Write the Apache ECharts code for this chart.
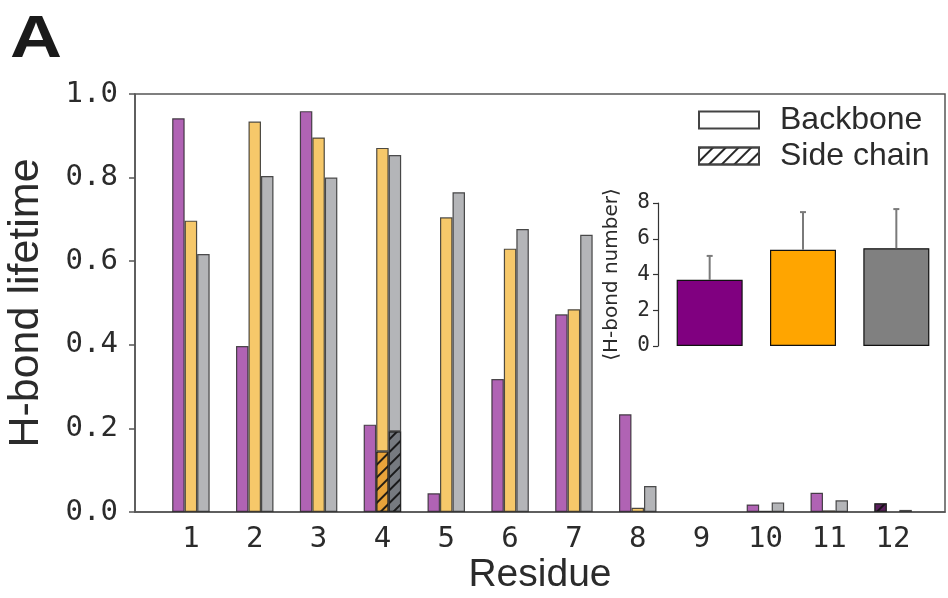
<!DOCTYPE html>
<html><head><meta charset="utf-8">
<script src="https://cdn.jsdelivr.net/npm/echarts@6/dist/echarts.min.js"></script>
<style>html,body{margin:0;padding:0;background:#fff}#c{width:948px;height:598px}</style>
</head><body><div id="c"></div>
<script>
// ---- data ----
const residues = ['1','2','3','4','5','6','7','8','9','10','11','12'];
const purpleBackbone = [0.942, 0.397, 0.959, 0.209, 0.045, 0.318, 0.473, 0.234, null, 0.018, 0.046, null];
const purpleSide     = [null, null, null, null, null, null, null, null, null, null, null, 0.021];
const yellowSide     = [null, null, null, 0.145, null, null, null, null, null, null, null, null];
const yellowBackbone = [0.697, 0.934, 0.896, 0.726, 0.705, 0.630, 0.485, 0.010, null, 0.003, 0.004, null];
const graySide       = [null, null, null, 0.193, null, null, null, null, null, null, null, null];
const grayBackbone   = [0.617, 0.804, 0.800, 0.661, 0.765, 0.677, 0.663, 0.062, null, 0.023, 0.028, 0.005];
const yTicks = [0, 0.2, 0.4, 0.6, 0.8, 1.0];
const insetGroups = ['purple', 'orange', 'gray'];
const insetMean = [3.70, 5.38, 5.47];
const insetSD   = [1.34, 2.11, 2.19];
const insetTicks = [0, 2, 4, 6, 8];
const legendNames = ['Backbone', 'Side chain'];

// ---- style ----
const mono = 'DejaVu Sans Mono';
const sans = 'Liberation Sans';
const txt = '#2b2b2b';
const axisCol = '#555';
const hatch = {symbol: 'rect', symbolSize: 1, color: 'rgba(15,15,15,0.9)', dashArrayX: [1, 0], dashArrayY: [1.5, 7], rotation: -Math.PI / 4};
const edge = 'rgba(35,35,35,0.8)';
const fill = {p: '#b063b4', y: '#f6c86a', g: '#b4b5b8'};
const sideFill = {p: '#5a1d5c', y: '#e8a33a', g: '#767a80'};
const insetFill = ['#800080', '#ffa500', '#808080'];

function barSeries(name, data, stack, color, decal) {
  return {
    type: 'bar', name: name, xAxisIndex: 1, yAxisIndex: 1, stack: stack,
    data: data, barWidth: 12.5, barGap: '0%',
    itemStyle: {color: color, borderColor: edge, borderWidth: 1.2, decal: decal || null},
    silent: true, animation: false
  };
}

const chart = echarts.init(document.getElementById('c'), null, {renderer: 'canvas'});
chart.setOption({
  animation: false,
  backgroundColor: '#fff',
  grid: [
    {left: 135, right: 3, top: 94, bottom: 86, show: true, borderColor: axisCol, borderWidth: 1.5, backgroundColor: 'transparent', outerBoundsMode: 'none', containLabel: false},
    {left: 159, right: 23, top: 94, bottom: 86, outerBoundsMode: 'none', containLabel: false},
    {left: 663, width: 280, top: 203, bottom: 252, outerBoundsMode: 'none', containLabel: false},
    {left: 0, top: 0, width: 10, height: 10, outerBoundsMode: 'none', containLabel: false}
  ],
  xAxis: [
    {gridIndex: 0, type: 'value', min: 0, max: 1, splitLine: {show: false}, axisTick: {show: false}, axisLabel: {show: false},
     axisLine: {show: true, lineStyle: {color: axisCol, width: 1.5}},
     name: 'Residue', nameLocation: 'middle', nameGap: 44,
     nameTextStyle: {fontFamily: sans, fontSize: 39, color: txt}},
    {gridIndex: 1, type: 'category', data: residues, axisLine: {show: false}, axisTick: {show: false},
     axisLabel: {fontFamily: mono, fontSize: 29, color: txt, margin: 13}},
    {gridIndex: 2, type: 'category', data: insetGroups, show: false},
    {gridIndex: 3, type: 'category', data: ['x'], show: false}
  ],
  yAxis: [
    {gridIndex: 0, type: 'value', min: 0, max: 1, interval: 0.2, splitLine: {show: false},
     axisLine: {show: true, lineStyle: {color: axisCol, width: 1.5}},
     axisTick: {show: true, inside: false, length: 6, lineStyle: {color: axisCol, width: 1.5}},
     axisLabel: {fontFamily: mono, fontSize: 29, color: txt, margin: 17, formatter: v => v.toFixed(1)},
     name: 'H-bond lifetime', nameLocation: 'middle', nameGap: 87,
     nameTextStyle: {fontFamily: sans, fontSize: 43, color: txt}},
    {gridIndex: 1, type: 'value', min: 0, max: 1, show: false},
    {gridIndex: 2, type: 'value', min: 0, max: 8, interval: 2, offset: 5, splitLine: {show: false},
     axisLine: {show: true, lineStyle: {color: '#333', width: 1.2}},
     axisTick: {show: true, length: 5, lineStyle: {color: '#333', width: 1.2}},
     axisLabel: {fontFamily: mono, fontSize: 21, color: txt, margin: 8},
     name: '⟨H-bond number⟩', nameLocation: 'middle', nameGap: 36,
     nameTextStyle: {fontFamily: 'DejaVu Sans', fontSize: 20, color: txt}},
    {gridIndex: 3, type: 'value', show: false}
  ],
  legend: {
    data: legendNames, left: 698, top: 104, orient: 'vertical', itemWidth: 60, itemHeight: 17, itemGap: 4,
    padding: 0, icon: 'rect', selectedMode: false,
    textStyle: {fontFamily: sans, fontSize: 32, color: txt, padding: [0, 0, 0, 16]}
  },
  graphic: [
    {type: 'text', left: 10, top: 10, scaleX: 1.2, style: {text: 'A', font: 'bold 60px "Liberation Sans"', fill: '#1a1a1a'}}
  ],
  series: [
    barSeries('p-side', purpleSide, 'p', sideFill.p, hatch),
    barSeries('p-back', purpleBackbone, 'p', fill.p),
    barSeries('y-side', yellowSide, 'y', sideFill.y, hatch),
    barSeries('y-back', yellowBackbone, 'y', fill.y),
    barSeries('g-side', graySide, 'g', sideFill.g, hatch),
    barSeries('g-back', grayBackbone, 'g', fill.g),
    {type: 'bar', xAxisIndex: 2, yAxisIndex: 2, barWidth: 66, silent: true,
     data: insetMean.map((v, i) => ({value: v, itemStyle: {color: insetFill[i]}})),
     itemStyle: {borderColor: '#111', borderWidth: 1.2}},
    {type: 'custom', xAxisIndex: 2, yAxisIndex: 2, silent: true, z: 5,
     data: insetMean.map((m, i) => [i, m, m + insetSD[i]]),
     renderItem: function (params, api) {
       const base = api.coord([api.value(0), api.value(1)]);
       const top = api.coord([api.value(0), api.value(2)]);
       const st = {stroke: '#7a7a7a', lineWidth: 2};
       return {type: 'group', children: [
         {type: 'line', shape: {x1: base[0], y1: base[1], x2: top[0], y2: top[1]}, style: st},
         {type: 'line', shape: {x1: top[0] - 3, y1: top[1], x2: top[0] + 3, y2: top[1]}, style: st}
       ]};
     }},
    {type: 'bar', name: 'Backbone', xAxisIndex: 3, yAxisIndex: 3, data: [],
     itemStyle: {color: '#fff', borderColor: '#444', borderWidth: 1.5}},
    {type: 'bar', name: 'Side chain', xAxisIndex: 3, yAxisIndex: 3, data: [],
     itemStyle: {color: '#fff', borderColor: '#444', borderWidth: 1.5, decal: hatch}}
  ]
});
</script>
</body></html>
